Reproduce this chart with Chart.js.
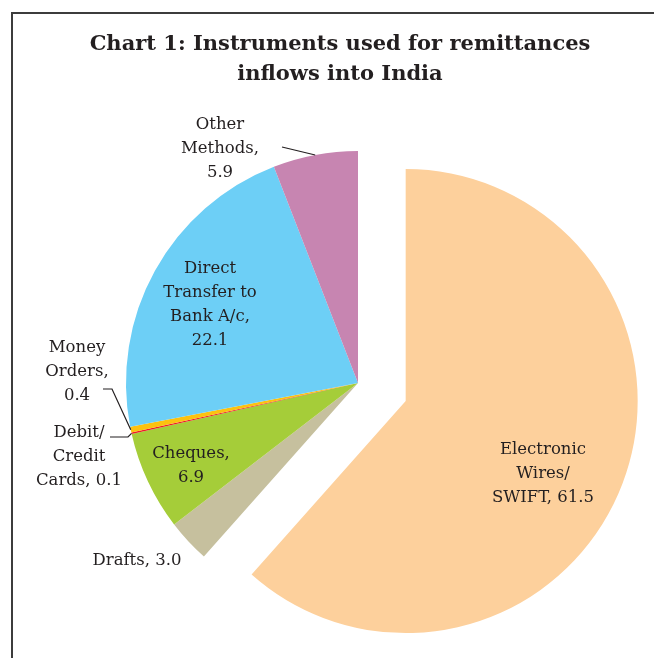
<!DOCTYPE html>
<html>
<head>
<meta charset="utf-8">
<title>Instruments used for remittances inflows into India</title>
<script src="https://cdn.jsdelivr.net/npm/chart.js"></script>
<style>
  html, body { margin: 0; padding: 0; background: #fff; }
  #wrap { width: 654px; height: 658px; }
</style>
</head>
<body>
<div id="wrap"><canvas id="pie"></canvas></div>
<script>
// shares in per cent, clockwise from 12 o'clock
const categories = ["Electronic Wires/ SWIFT", "Drafts", "Cheques", "Debit/ Credit Cards", "Money Orders", "Direct Transfer to Bank A/c", "Other Methods"];
const shares = [61.5, 3.0, 6.9, 0.1, 0.4, 22.1, 5.9];
const titleLines = ["Chart 1: Instruments used for remittances", "inflows into India"];

const colors = ["#fdd09c", "#c6c09e", "#a5cd39", "#ed1c24", "#fcc20f", "#6dcff6", "#c785b1"];
// pulled-out distance per slice (px); chart.js "offset" also grows the radius, so do it by hand
const explode = [51, 0, 0, 0, 0, 0, 0];

const FONT = '"DejaVu Serif", "Liberation Serif", serif';
const INK = "#231f20";

// where each label goes, relative to the pie centre (px); {v} = value
const labelLayout = [
  { lines: ["Electronic", "Wires/", "SWIFT, {v}"], at: [185, 91] },
  { lines: ["Drafts, {v}"], at: [-221, 178] },
  { lines: ["Cheques,", "{v}"], at: [-167, 83] },
  { lines: ["Debit/", "Credit", "Cards, {v}"], at: [-279, 74], leader: [[-248, 54], [-230, 54]] },
  { lines: ["Money", "Orders,", "{v}"], at: [-281, -11], leader: [[-255, 6], [-246, 6]] },
  { lines: ["Direct", "Transfer to", "Bank A/c,", "{v}"], at: [-148, -78] },
  { lines: ["Other", "Methods,", "{v}"], at: [-138, -234], leader: [[-76, -236]] }
];

const decorPlugin = {
  id: "decor",
  afterUpdate(chart) {
    chart.getDatasetMeta(0).data.forEach((arc, i) => {
      if (!explode[i]) return;
      const mid = (arc.startAngle + arc.endAngle) / 2;
      arc.x += Math.cos(mid) * explode[i];
      arc.y += Math.sin(mid) * explode[i];
    });
  },
  beforeDraw(chart) {
    const ctx = chart.ctx;
    ctx.save();
    // frame, only top and left edges show
    ctx.strokeStyle = "#3c3c3c";
    ctx.lineWidth = 2;
    ctx.beginPath();
    ctx.moveTo(12, chart.height);
    ctx.lineTo(12, 13);
    ctx.lineTo(chart.width, 13);
    ctx.stroke();
    // title
    ctx.fillStyle = INK;
    ctx.font = "bold 21px " + FONT;
    ctx.textAlign = "center";
    ctx.textBaseline = "middle";
    titleLines.forEach((t, i) => ctx.fillText(t, 340, 45 + i * 30));
    ctx.restore();
  },
  afterDatasetsDraw(chart) {
    const ctx = chart.ctx;
    const arcs = chart.getDatasetMeta(0).data;
    const area = chart.chartArea;
    const cx = (area.left + area.right) / 2;
    const cy = (area.top + area.bottom) / 2;
    ctx.save();
    ctx.fillStyle = INK;
    ctx.strokeStyle = INK;
    ctx.lineWidth = 1.2;
    ctx.font = "16.5px " + FONT;
    ctx.textAlign = "center";
    ctx.textBaseline = "middle";
    labelLayout.forEach((lab, i) => {
      const arc = arcs[i];
      const lh = 24;
      const x = cx + lab.at[0];
      const y0 = cy + lab.at[1] - (lab.lines.length - 1) * lh / 2;
      lab.lines.forEach((ln, j) => {
        ctx.fillText(ln.replace("{v}", shares[i].toFixed(1)), x, y0 + j * lh);
      });
      if (lab.leader) {
        const mid = (arc.startAngle + arc.endAngle) / 2;
        ctx.beginPath();
        lab.leader.forEach((p, k) => {
          if (k === 0) ctx.moveTo(cx + p[0], cy + p[1]);
          else ctx.lineTo(cx + p[0], cy + p[1]);
        });
        ctx.lineTo(arc.x + Math.cos(mid) * arc.outerRadius, arc.y + Math.sin(mid) * arc.outerRadius);
        ctx.stroke();
      }
    });
    ctx.restore();
  }
};

new Chart(document.getElementById("pie"), {
  type: "pie",
  data: {
    labels: categories,
    datasets: [{
      data: shares,
      backgroundColor: colors,
      borderWidth: 0,
      hoverOffset: 0
    }]
  },
  options: {
    responsive: true,
    maintainAspectRatio: false,
    animation: false,
    radius: 232,
    layout: { padding: { left: 62, right: 0, top: 108, bottom: 0 } },
    plugins: {
      legend: { display: false },
      title: { display: false },
      tooltip: { enabled: false }
    },
    events: []
  },
  plugins: [decorPlugin]
});
</script>
</body>
</html>
